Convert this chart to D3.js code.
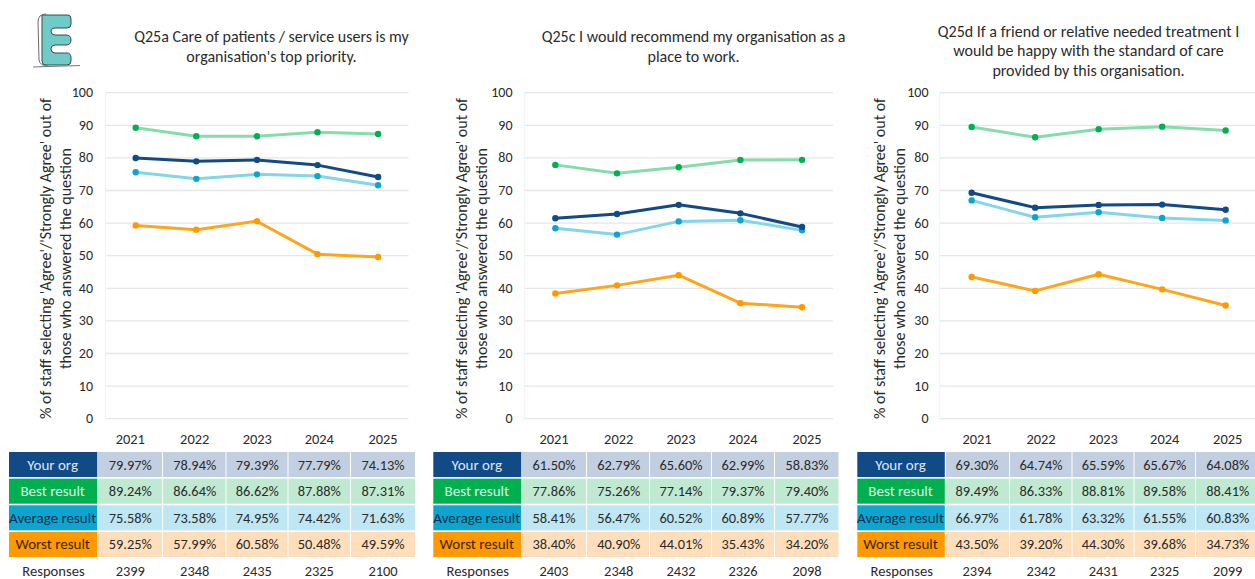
<!DOCTYPE html>
<html>
<head>
<meta charset="utf-8">
<script src="https://cdn.jsdelivr.net/npm/d3@7"></script>
<style>
  body { margin: 0; background: #fff; }
  text { font-family: Carlito, Lato, "Open Sans", sans-serif; fill: #2b2b2b; }
</style>
</head>
<body>
<svg id="chart" width="1255" height="579"></svg>
<script>
'use strict'

const years = ['2021', '2022', '2023', '2024', '2025']
const series_names = ['Your org', 'Best result', 'Average result', 'Worst result']

const titles_a = ['Q25a Care of patients / service users is my', "organisation's top priority."]
const titles_c = ['Q25c I would recommend my organisation as a', 'place to work.']
const titles_d = ['Q25d If a friend or relative needed treatment I', 'would be happy with the standard of care', 'provided by this organisation.']

const your_a = [79.97, 78.94, 79.39, 77.79, 74.13]
const best_a = [89.24, 86.64, 86.62, 87.88, 87.31]
const avg_a = [75.58, 73.58, 74.95, 74.42, 71.63]
const worst_a = [59.25, 57.99, 60.58, 50.48, 49.59]
const resp_a = [2399, 2348, 2435, 2325, 2100]

const your_c = [61.50, 62.79, 65.60, 62.99, 58.83]
const best_c = [77.86, 75.26, 77.14, 79.37, 79.40]
const avg_c = [58.41, 56.47, 60.52, 60.89, 57.77]
const worst_c = [38.40, 40.90, 44.01, 35.43, 34.20]
const resp_c = [2403, 2348, 2432, 2326, 2098]

const your_d = [69.30, 64.74, 65.59, 65.67, 64.08]
const best_d = [89.49, 86.33, 88.81, 89.58, 88.41]
const avg_d = [66.97, 61.78, 63.32, 61.55, 60.83]
const worst_d = [43.50, 39.20, 44.30, 39.68, 34.73]
const resp_d = [2394, 2342, 2431, 2325, 2099]

const y_ticks = [0, 10, 20, 30, 40, 50, 60, 70, 80, 90, 100]

const dark = { 'Your org': '#124a85', 'Best result': '#00b050', 'Average result': '#0ea4d0', 'Worst result': '#ff9900' }
const light = { 'Your org': '#c1cfe0', 'Best result': '#bfe9d0', 'Average result': '#bfe6f3', 'Worst result': '#ffdfbb' }
const line_col = { 'Your org': '#124a85', 'Best result': '#86dcaa', 'Average result': '#83d5ea', 'Worst result': '#ffa51c' }
const label_col = { 'Your org': '#dfe8f2', 'Best result': '#d9f5e4', 'Average result': '#10324a', 'Worst result': '#3a2400' }

let panels = [
  { title: titles_a, title_x: 271.5, title_y: 41.5, title_gap: 20, x0: 105.5, x1: 408.5, px0: 105.4, px1: 408.4, label_x: 9, label_w: 88.3,
    col_edges: [98, 163, 226.5, 288.5, 351, 416], year_x: [130.3, 194.7, 257.3, 319.3, 383], axis_x: 93, ytitle_x: 51,
    your: your_a, best: best_a, avg: avg_a, worst: worst_a, resp: resp_a },
  { title: titles_c, title_x: 693.5, title_y: 41.7, title_gap: 20, x0: 524.3, x1: 833, px0: 524.5, px1: 832.9, label_x: 433.3, label_w: 88,
    col_edges: [522, 587, 650, 712, 775, 839.5], year_x: [554, 618.7, 681, 743, 807], axis_x: 512.5, ytitle_x: 467,
    your: your_c, best: best_c, avg: avg_c, worst: worst_c, resp: resp_c },
  { title: titles_d, title_x: 1088.5, title_y: 36.7, title_gap: 19.5, x0: 939.7, x1: 1255, px0: 939.9, px1: 1257.4, label_x: 857.3, label_w: 87.5,
    col_edges: [946, 1010, 1072.5, 1134.5, 1196, 1256], year_x: [977, 1041, 1103.3, 1164.7, 1227.7], axis_x: 928.5, ytitle_x: 885,
    your: your_d, best: best_d, avg: avg_d, worst: worst_d, resp: resp_d }
]

const svg = d3.select('#chart')

function draw_logo(){
  let g = svg.append('g')
  g.append('path')
    .attr('d', 'M42 15 H68 Q71 15 71 19 V24 Q71 28 67 28 H55 Q51 28 51 31 Q51 35 55 35 H66 Q71 35 71 40 Q71 45 66 45 H55 Q51 45 51 49 Q51 53 55 53 H67 Q71 53 71 58 V61 Q71 65 67 65 H46 Q42 65 42 61 Z')
    .attr('fill', '#6fcbc8')
    .attr('stroke', '#3c4a4c')
    .attr('stroke-width', 1)
  g.append('path')
    .attr('d', 'M46 14 Q38 14 38 22 L39 60 Q40 66 48 66')
    .attr('fill', 'none').attr('stroke', '#6a6a6a').attr('stroke-width', 1)
  g.append('line').attr('x1', 33).attr('x2', 80).attr('y1', 67).attr('y2', 65.5)
    .attr('stroke', '#777').attr('stroke-width', 1)
}

function draw_panel(p){
  let g = svg.append('g')
  let yScale = d3.scaleLinear().domain([0, 100]).range([418.7, 92.7])
  let xScale = d3.scaleBand().domain(years).range([p.px0, p.px1])

  // titles
  p.title.forEach(function(t, i){
    g.append('text').text(t).attr('x', p.title_x).attr('y', p.title_y + i * p.title_gap)
      .attr('text-anchor', 'middle').style('font-size', '16px')
  })

  // y axis title
  let yt = g.append('g').attr('transform', 'translate(' + p.ytitle_x + ',258.5) rotate(-90)')
  yt.append('text').text("% of staff selecting 'Agree'/'Strongly Agree' out of").attr('text-anchor', 'middle').style('font-size', '16px')
  yt.append('text').text('those who answered the question').attr('y', 20).attr('text-anchor', 'middle').style('font-size', '16px')

  // gridlines and tick labels
  g.append('g').selectAll('line').data(y_ticks).enter().append('line')
    .attr('x1', p.x0).attr('x2', p.x1)
    .attr('y1', function(d){ return yScale(d) }).attr('y2', function(d){ return yScale(d) })
    .attr('stroke', '#e6e6e6').attr('stroke-width', 1.3)
  g.append('line').attr('x1', p.x0).attr('x2', p.x0).attr('y1', yScale(100)).attr('y2', yScale(0))
    .attr('stroke', '#eef3f7').attr('stroke-width', 1)
  g.append('g').selectAll('text').data(y_ticks).enter().append('text')
    .text(function(d){ return d })
    .attr('x', p.axis_x).attr('y', function(d){ return yScale(d) + 4.5 })
    .attr('text-anchor', 'end').style('font-size', '14px')

  // lines
  let line = d3.line()
    .x(function(d, i){ return xScale(years[i]) + xScale.bandwidth() / 2 })
    .y(function(d){ return yScale(d) })
  let rows = [
    ['Best result', p.best], ['Average result', p.avg], ['Worst result', p.worst], ['Your org', p.your]
  ]
  rows.forEach(function(r){
    g.append('path').attr('d', line(r[1])).attr('fill', 'none')
      .attr('stroke', line_col[r[0]]).attr('stroke-width', 3).attr('stroke-linejoin', 'round')
    g.append('g').selectAll('circle').data(r[1]).enter().append('circle')
      .attr('cx', function(d, i){ return xScale(years[i]) + xScale.bandwidth() / 2 })
      .attr('cy', function(d){ return yScale(d) })
      .attr('r', 3.2)
      .attr('fill', dark[r[0]])
  })

  // table
  years.forEach(function(y, i){
    g.append('text').text(y).attr('x', p.year_x[i]).attr('y', 444)
      .attr('text-anchor', 'middle').style('font-size', '14.4px')
  })
  let table_rows = [
    ['Your org', p.your], ['Best result', p.best], ['Average result', p.avg], ['Worst result', p.worst]
  ]
  let row_y = d3.scaleBand().domain(series_names).range([452, 558.6])
  table_rows.forEach(function(r){
    let name = r[0]
    let y = row_y(name)
    let h = row_y.bandwidth() - 1.6
    g.append('rect').attr('x', p.label_x).attr('y', y).attr('width', p.label_w).attr('height', h).attr('fill', dark[name])
    g.append('text').text(name).attr('x', p.label_x + p.label_w / 2 - 0.5).attr('y', y + h / 2 + 5)
      .attr('text-anchor', 'middle').style('font-size', '15px').style('fill', label_col[name])
    r[1].forEach(function(v, i){
      g.append('rect').attr('x', p.col_edges[i]).attr('y', y)
        .attr('width', p.col_edges[i + 1] - p.col_edges[i] - 1).attr('height', h).attr('fill', light[name])
      g.append('text').text(d3.format('.2f')(v) + '%').attr('x', p.year_x[i]).attr('y', y + h / 2 + 5)
        .attr('text-anchor', 'middle').style('font-size', '14.4px')
    })
  })
  g.append('text').text('Responses').attr('x', p.label_x + 44.5).attr('y', 576)
    .attr('text-anchor', 'middle').style('font-size', '14.6px')
  p.resp.forEach(function(v, i){
    g.append('text').text(v).attr('x', p.year_x[i]).attr('y', 576)
      .attr('text-anchor', 'middle').style('font-size', '14.4px')
  })
}

draw_logo()
panels.forEach(function(p){
  draw_panel(p)
})
</script>
</body>
</html>
